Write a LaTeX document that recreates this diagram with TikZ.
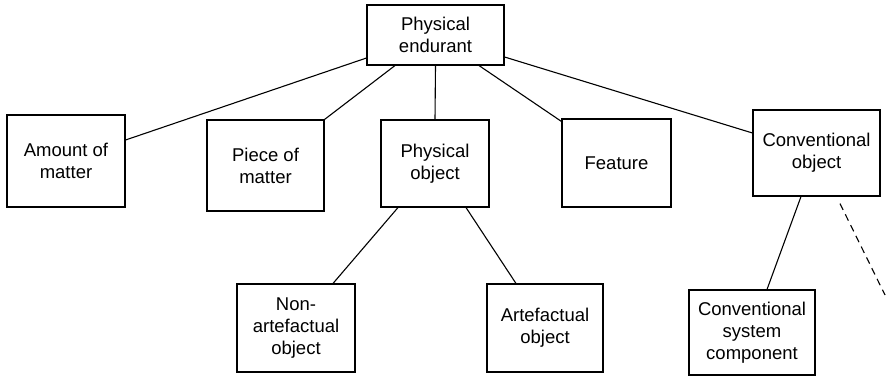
\documentclass[tikz,border=0pt]{standalone}
\usepackage{fontspec}
\setmainfont{Liberation Sans}
\usetikzlibrary{calc}
\begin{document}
\begin{tikzpicture}[x=1pt,y=-1pt,
  box/.style={draw,line width=1.1pt,rectangle,inner sep=0pt,align=center,
    font=\fontsize{18.5}{22}\selectfont},
  link/.style={line width=1.1pt},
  dlink/.style={line width=1.1pt,dash pattern=on 7pt off 5pt}]
\useasboundingbox (0,0) rectangle (886,377);
\node[box,minimum width=137pt,minimum height=60pt] (PE) at (435.5,35) {Physical\\endurant};
\node[box,minimum width=118pt,minimum height=92pt] (AM) at (66,161) {Amount of\\matter};
\node[box,minimum width=117pt,minimum height=91pt] (PM) at (265.5,165.5) {Piece of\\matter};
\node[box,minimum width=108pt,minimum height=87pt] (PO) at (435,163.5) {Physical\\object};
\node[box,minimum width=109pt,minimum height=88pt] (FE) at (616.5,163) {Feature};
\node[box,minimum width=127pt,minimum height=86pt] (CO) at (816.5,153) {Conventional\\object};
\node[box,minimum width=118pt,minimum height=88pt] (NA) at (296,328) {Non-\\artefactual\\object};
\node[box,minimum width=116pt,minimum height=88pt] (AR) at (545,328) {Artefactual\\object};
\node[box,minimum width=126pt,minimum height=85pt] (CSC) at (752,332.5) {Conventional\\system\\component};
\coordinate (DE) at (885,295);
\draw[link] ([yshift=-23pt]PE.west) -- ([yshift=21pt]AM.east);
\draw[link] ([xshift=-40.5pt]PE.south) -- (PM.north east);
\draw[link] (PE.south) -- (PO.north);
\draw[link] ([xshift=43.5pt]PE.south) -- ([yshift=-3pt]FE.north west);
\draw[link] ([yshift=-22pt]PE.east) -- ([yshift=20pt]CO.west);
\draw[link] ([xshift=-37pt]PO.south) -- ([xshift=37pt]NA.north);
\draw[link] ([xshift=31pt]PO.south) -- ([xshift=-29pt]AR.north);
\draw[link] ([xshift=-15.5pt]CO.south) -- ([xshift=15pt]CSC.north);
\draw[dlink] ([xshift=23.5pt,yshift=-7pt]CO.south) -- (DE);
\end{tikzpicture}
\end{document}
